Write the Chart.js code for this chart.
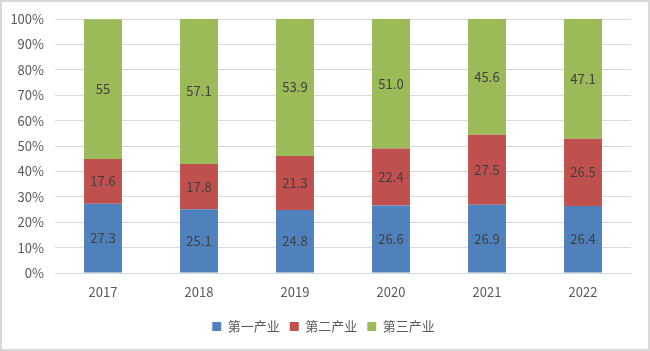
<!DOCTYPE html>
<html>
<head>
<meta charset="utf-8">
<script src="https://cdn.jsdelivr.net/npm/chart.js@4/dist/chart.umd.min.js"></script>
<style>
  html, body { margin: 0; padding: 0; background: #fff; }
  #wrap { width: 650px; height: 351px; box-sizing: border-box; border: 2px solid #d9d9d9; position: relative; }
  canvas { position: absolute; left: -2px; top: -2px; }
</style>
</head>
<body>
<div id="wrap"><canvas id="mycanvas" width="650" height="351"></canvas></div>
<script>
var years = ['2017', '2018', '2019', '2020', '2021', '2022'];
// values as printed on the bars
var primary = ['27.3', '25.1', '24.8', '26.6', '26.9', '26.4'];
var secondary = ['17.6', '17.8', '21.3', '22.4', '27.5', '26.5'];
var tertiary = ['55', '57.1', '53.9', '51.0', '45.6', '47.1'];
var yTicks = [0, 10, 20, 30, 40, 50, 60, 70, 80, 90, 100];

var font = "'Noto Sans CJK SC', 'Liberation Sans', sans-serif";

var barLabels = {
	id: 'barLabels',
	afterDatasetsDraw: function(chart) {
		var ctx = chart.ctx;
		ctx.save();
		ctx.fillStyle = '#404040';
		ctx.font = '13px ' + font;
		ctx.textAlign = 'center';
		ctx.textBaseline = 'middle';
		chart.data.datasets.forEach(function(ds, i) {
			var meta = chart.getDatasetMeta(i);
			meta.data.forEach(function(bar, j) {
				var mid = (bar.y + bar.base) / 2;
				ctx.fillText(ds.labelText[j], bar.x, mid);
			});
		});
		ctx.restore();
	}
};

// legend sits centred on the whole picture, not the plot
var legendShift = {
	id: 'legendShift',
	afterLayout: function(chart) {
		chart.legend.left += 8;
		chart.legend.right += 8;
	}
};

function toNum(a) { return a.map(function(v){ return +v; }); }

var chartdata = {
	labels: years,
	datasets: [
		{ label: '第一产业', data: toNum(primary), labelText: primary, backgroundColor: '#4f81bd' },
		{ label: '第二产业', data: toNum(secondary), labelText: secondary, backgroundColor: '#c0504d' },
		{ label: '第三产业', data: toNum(tertiary), labelText: tertiary, backgroundColor: '#9bbb59' }
	]
};

var ctx = document.getElementById('mycanvas');
new Chart(ctx, {
	type: 'bar',
	data: chartdata,
	plugins: [barLabels, legendShift],
	options: {
		responsive: false,
		animation: false,
		layout: { padding: { top: 19, left: 0, right: 19, bottom: 8 } },
		datasets: { bar: { categoryPercentage: 1, barPercentage: 0.395 } },
		plugins: {
			tooltip: { enabled: false },
			legend: {
				position: 'bottom',
				labels: { boxWidth: 9, boxHeight: 9, padding: 10, color: '#595959', font: { family: font, size: 13 } }
			}
		},
		scales: {
			x: {
				stacked: true,
				grid: { display: false, drawTicks: false },
				border: { display: false },
				ticks: { color: '#595959', padding: 11, font: { family: font, size: 13 } },
				afterFit: function(s) { s.height = 37; }
			},
			y: {
				stacked: true,
				min: 0, max: 100,
				afterBuildTicks: function(s) { s.ticks = yTicks.map(function(v){ return { value: v }; }); },
				grid: { color: '#d9d9d9', drawTicks: false },
				border: { display: false },
				ticks: { color: '#595959', padding: 11, font: { family: font, size: 13 }, callback: function(v){ return v + '%'; } },
				afterFit: function(s) { s.width = 55; }
			}
		}
	}
});
</script>
</body>
</html>
